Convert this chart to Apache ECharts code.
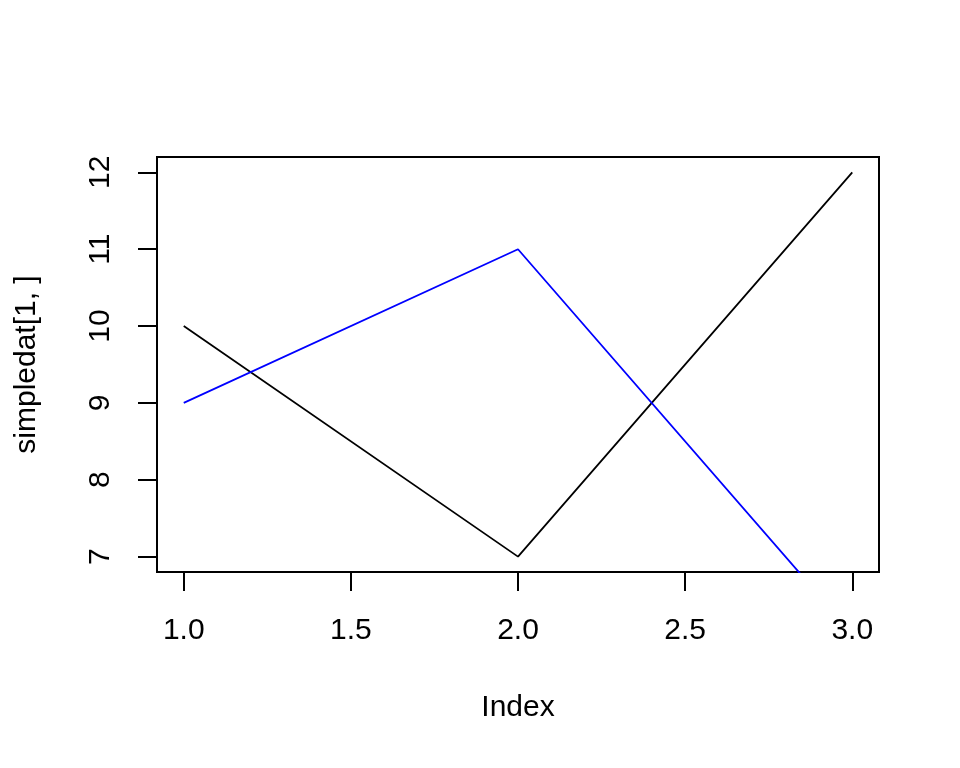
<!DOCTYPE html>
<html>
<head>
<meta charset="utf-8">
<script src="https://cdn.jsdelivr.net/npm/echarts@6/dist/echarts.min.js"></script>
<style>
html,body{margin:0;padding:0;background:#fff;}
#chart{width:960px;height:768px;}
</style>
</head>
<body>
<div id="chart"></div>
<script>
const index = [1, 2, 3];
const seriesBlack = [10, 7, 12];
const seriesBlue = [9, 11, 6];
const xTicks = [1.0, 1.5, 2.0, 2.5, 3.0];
const yTicks = [7, 8, 9, 10, 11, 12];

const font = 'Liberation Sans, Arial, sans-serif';
const chart = echarts.init(document.getElementById('chart'), null, {renderer: 'canvas'});
chart.setOption({
  animation: false,
  backgroundColor: '#fff',
  grid: {
    left: 157, top: 157, right: 81, bottom: 196,
    show: true, borderColor: '#000', borderWidth: 2, backgroundColor: 'transparent'
  },
  xAxis: {
    type: 'value', min: 0.92, max: 3.08,
    name: 'Index', nameLocation: 'middle', nameGap: 121,
    nameTextStyle: {fontFamily: font, fontSize: 30, color: '#000'},
    axisLine: {show: false},
    splitLine: {show: false},
    axisTick: {show: true, inside: false, length: 19, customValues: xTicks, lineStyle: {color: '#000', width: 2}},
    axisLabel: {show: true, margin: 44, customValues: xTicks, fontFamily: font, fontSize: 30, color: '#000',
      formatter: v => Number(v).toFixed(1)}
  },
  yAxis: {
    type: 'value', min: 6.8, max: 12.2,
    name: 'simpledat[1, ]', nameLocation: 'middle', nameGap: 115,
    nameTextStyle: {fontFamily: font, fontSize: 30, color: '#000'},
    axisLine: {show: false},
    splitLine: {show: false},
    axisTick: {show: true, inside: false, length: 19, customValues: yTicks, lineStyle: {color: '#000', width: 2}},
    axisLabel: {show: true, margin: 41, rotate: 90, customValues: yTicks, fontFamily: font, fontSize: 30, color: '#000',
      formatter: v => String(v)}
  },
  series: [
    {type: 'line', data: index.map((x, i) => [x, seriesBlack[i]]), symbol: 'none', clip: true,
      lineStyle: {color: '#000', width: 1.8}, itemStyle: {color: '#000'}},
    {type: 'line', data: index.map((x, i) => [x, seriesBlue[i]]), symbol: 'none', clip: true,
      lineStyle: {color: '#0000ff', width: 1.8}, itemStyle: {color: '#0000ff'}}
  ]
});
</script>
</body>
</html>
